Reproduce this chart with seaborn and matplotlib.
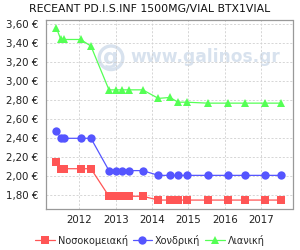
import matplotlib
matplotlib.use("Agg")
import matplotlib.pyplot as plt
import matplotlib.dates as mdates
from matplotlib.ticker import FuncFormatter, FixedLocator
import seaborn as sns
import pandas as pd

title = "RECEANT PD.I.S.INF 1500MG/VIAL BTX1VIAL"
dates = ["2011-05-15", "2011-06-28", "2011-08-01", "2012-01-13", "2012-04-26",
         "2012-10-24", "2012-12-30", "2013-03-01", "2013-05-10", "2013-09-28",
         "2014-03-05", "2014-06-30", "2014-09-18", "2014-12-13", "2015-07-13",
         "2016-02-06", "2016-07-20", "2017-02-13", "2017-07-17"]
hospital = [2.15, 2.08, 2.08, 2.08, 2.08, 1.79, 1.79, 1.79, 1.79, 1.79,
            1.75, 1.75, 1.75, 1.75, 1.75, 1.75, 1.75, 1.75, 1.75]
wholesale = [2.48, 2.40, 2.40, 2.40, 2.40, 2.06, 2.06, 2.06, 2.06, 2.06,
             2.01, 2.01, 2.01, 2.01, 2.01, 2.01, 2.01, 2.01, 2.01]
retail = [3.56, 3.44, 3.44, 3.44, 3.37, 2.91, 2.91, 2.91, 2.91, 2.91,
          2.82, 2.83, 2.78, 2.78, 2.77, 2.77, 2.77, 2.77, 2.77]
series_names = ["Νοσοκομειακή", "Χονδρική", "Λιανική"]
colors = ["#FF5555", "#5555FF", "#55FF55"]
markers = ["s", "o", "^"]
year_ticks = [2012, 2013, 2014, 2015, 2016, 2017]
y_ticks = [1.80, 2.00, 2.20, 2.40, 2.60, 2.80, 3.00, 3.20, 3.40, 3.60]

rows = []
for name, vals in zip(series_names, [hospital, wholesale, retail]):
    for d, v in zip(dates, vals):
        rows.append({"date": pd.Timestamp(d), "value": v, "series": name})
df = pd.DataFrame(rows)

sns.set_style("white")
plt.rcParams["font.family"] = ["DejaVu Sans"]

fig = plt.figure(figsize=(3.0, 2.5), dpi=100)
ax = fig.add_axes([0.152, 0.164, 0.823, 0.756])

# watermark
wm = "#d8e2ee"
ax.text(0.342, 0.804, "www.galinos.gr", transform=ax.transAxes, ha="left", va="center",
        fontsize=12.3, fontweight="bold", color=wm, zorder=0)
ax.text(0.265, 0.80, "g", transform=ax.transAxes, ha="center", va="center",
        fontsize=16, fontweight="bold", color=wm, zorder=0,
        bbox=dict(boxstyle="circle,pad=0.08", fc="none", ec=wm, lw=2.4))

sns.lineplot(data=df, x="date", y="value", hue="series", style="series",
             hue_order=series_names, style_order=series_names,
             palette=colors, markers=markers, dashes=False,
             markersize=6, markeredgewidth=0, linewidth=0.9, ax=ax, legend=True, zorder=3)

ax.set_xlim(pd.Timestamp("2011-01-26"), pd.Timestamp("2017-11-12"))
ax.set_ylim(1.656, 3.645)
ax.xaxis.set_major_locator(FixedLocator([mdates.date2num(pd.Timestamp(f"{y}-01-01")) for y in year_ticks]))
ax.xaxis.set_major_formatter(FuncFormatter(lambda v, p: mdates.num2date(v).strftime("%Y")))
ax.yaxis.set_major_locator(FixedLocator(y_ticks))
ax.yaxis.set_major_formatter(FuncFormatter(lambda v, p: f"{v:.2f}".replace(".", ",") + " €"))
ax.set_xlabel("")
ax.set_ylabel("")
ax.grid(True, color="#d0d0d0", linestyle=(0, (2.5, 2)), linewidth=0.6)
for s in ax.spines.values():
    s.set_color("#999999")
    s.set_linewidth(0.9)
ax.tick_params(axis="both", labelsize=7.4, colors="#222222", length=2.5, width=0.6, pad=3)
ax.tick_params(axis="x", length=0, pad=4)
ax.tick_params(axis="y", color="#999999")

handles, labels = ax.get_legend_handles_labels()
ax.get_legend().remove()
fig.legend(handles, labels, loc="center", bbox_to_anchor=(0.5, 0.04), ncol=3, frameon=False,
           fontsize=7.0, handlelength=2.0, handletextpad=0.3, columnspacing=0.5)

fig.text(0.5, 0.965, title, ha="center", va="center", fontsize=7.8, color="#111111")

fig.savefig("out.png", dpi=100)
